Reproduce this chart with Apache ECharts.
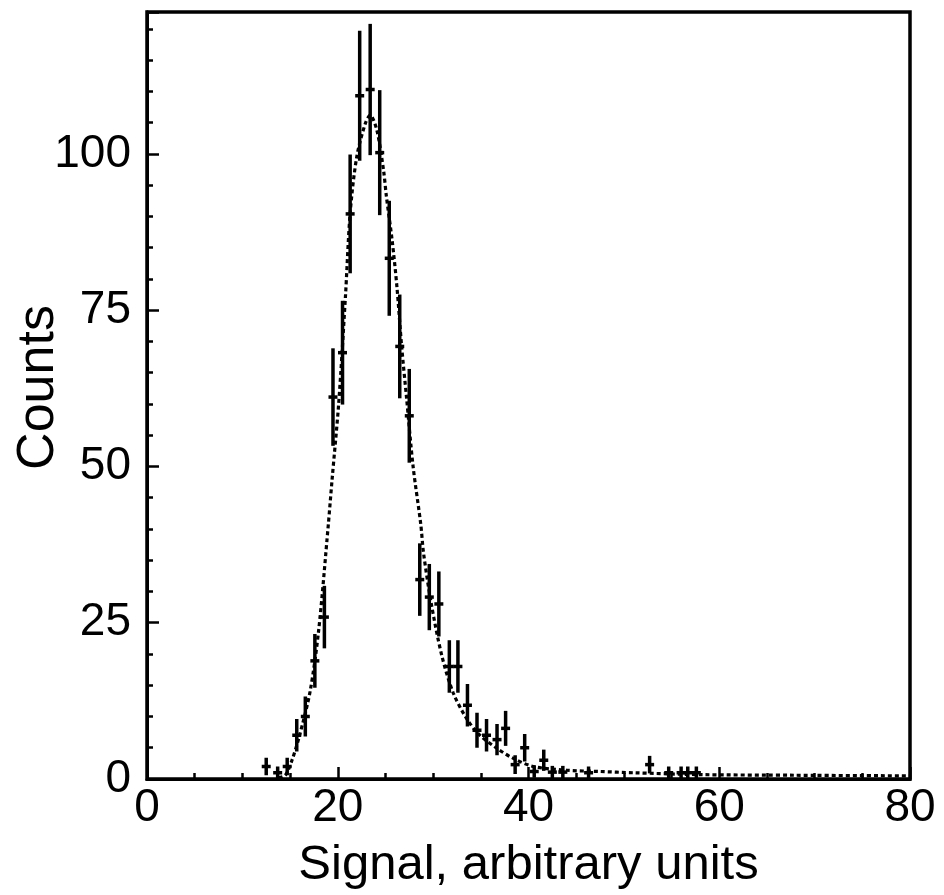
<!DOCTYPE html>
<html>
<head>
<meta charset="utf-8">
<script src="https://cdn.jsdelivr.net/npm/echarts@6/dist/echarts.min.js"></script>
<style>html,body{margin:0;padding:0;background:#fff;}#chart{width:944px;height:895px;}</style>
</head>
<body>
<div id="chart"></div>
<script>
// Measured histogram points
const signalX = [12.5, 13.7, 14.7, 15.7, 16.6, 17.6, 18.6, 19.5, 20.5, 21.3, 22.3, 23.4, 24.4, 25.4, 26.5, 27.5, 28.6, 29.6, 30.6, 31.7, 32.6, 33.6, 34.6, 35.6, 36.7, 37.6, 38.6, 39.6, 40.6, 41.6, 42.5, 43.6, 46.3, 52.7, 54.7, 56.0, 56.7, 57.6];
const counts  = [2.0, 1.0, 2.0, 7.0, 10.0, 18.9, 25.9, 61.1, 68.2, 90.4, 109.3, 110.3, 100.2, 83.3, 69.2, 58.1, 31.9, 29.1, 28.0, 18.0, 18.0, 11.8, 7.8, 7.0, 6.3, 8.1, 2.3, 5.0, 1.2, 3.0, 1.1, 1.1, 1.0, 2.3, 1.0, 1.0, 1.0, 1.0];
const countErr = [1.4, 1.0, 1.4, 2.6, 3.2, 4.3, 5.0, 7.8, 8.3, 9.5, 10.4, 10.5, 10.0, 9.2, 8.3, 7.5, 5.8, 5.3, 5.2, 4.2, 4.2, 3.4, 2.8, 2.6, 2.5, 2.8, 1.5, 2.2, 1.0, 1.7, 1.0, 1.0, 1.0, 1.4, 1.0, 1.0, 1.0, 1.0];

// Fit curve
const fitX = [13.8, 14.5, 15.2, 16.0, 17.1, 18.0, 19.0, 19.4, 20.1, 20.8, 21.3, 22.0, 22.9, 23.4, 24.1, 24.8, 25.1, 25.7, 26.2, 26.7, 27.2, 27.9, 28.7, 29.0, 29.8, 30.9, 32.1, 33.5, 34.9, 36.7, 38.4, 40.5, 44.0, 47.5, 51.0, 58.0, 68.0, 80.0];
const fitY = [0.2, 0.6, 3.0, 7.0, 14.0, 23.8, 40.5, 47.8, 60.1, 77.0, 90.5, 99.6, 104.9, 106.2, 103.8, 97.4, 93.2, 86.2, 78.8, 69.2, 61.2, 50.0, 40.8, 36.1, 28.1, 19.8, 13.8, 9.7, 7.0, 4.9, 3.3, 2.0, 1.4, 1.2, 1.0, 0.7, 0.6, 0.5];

const xTicks = [0, 80, 20];       // min, max, labelled interval
const yTicks = [0, 122.7, 25];     // min, max, labelled interval

const FONT = 'Liberation Sans';
const points = signalX.map((x, i) => [x, counts[i], countErr[i]]);
const fitLine = fitX.map((x, i) => [x, fitY[i]]);

const chart = echarts.init(document.getElementById('chart'), null, {renderer: 'canvas'});
const yBase = {
  type: 'value', min: yTicks[0], max: yTicks[1], position: 'left',
  splitLine: {show: false},
  axisLine: {show: true, lineStyle: {color: '#000', width: 3}}
};
chart.setOption({
  animation: false,
  backgroundColor: '#fff',
  grid: {left: 147, right: 34, top: 12, bottom: 116, containLabel: false, outerBoundsMode: 'none',
         show: true, borderColor: '#000', borderWidth: 3.5},
  xAxis: {
    type: 'value', min: xTicks[0], max: xTicks[1], interval: xTicks[2],
    name: 'Signal, arbitrary units', nameLocation: 'middle', nameGap: 62, nameMoveOverlap: false,
    nameTextStyle: {fontFamily: FONT, fontSize: 49, color: '#000'},
    splitLine: {show: false},
    axisLine: {show: true, lineStyle: {color: '#000', width: 3}},
    axisTick: {show: true, inside: true, length: 12, lineStyle: {color: '#000', width: 2.5}},
    minorTick: {show: true, splitNumber: 4, length: 6, lineStyle: {color: '#000', width: 2.5}},
    axisLabel: {fontFamily: FONT, fontSize: 46, color: '#000', margin: 6}
  },
  yAxis: [
    Object.assign({}, yBase, {
      interval: yTicks[2],
      name: 'Counts', nameLocation: 'middle', nameGap: 82, nameMoveOverlap: false,
      nameTextStyle: {fontFamily: FONT, fontSize: 52, color: '#000', padding: [0, 0, 0, 16]},
      axisTick: {show: true, inside: true, length: 12, lineStyle: {color: '#000', width: 2.5}},
      axisLabel: {fontFamily: FONT, fontSize: 46, color: '#000', margin: 16,
        formatter: v => (Math.abs(v % 25) < 1e-6 ? String(v) : '')}
    }),
    Object.assign({}, yBase, {
      interval: 5,
      axisTick: {show: true, inside: true, length: 6, lineStyle: {color: '#000', width: 2.5}},
      axisLabel: {show: false}
    })
  ],
  series: [
    {
      type: 'line', data: fitLine, smooth: 0.3, showSymbol: false, symbol: 'none',
      xAxisIndex: 0, yAxisIndex: 0,
      lineStyle: {color: '#000', width: 3.2, type: [4, 3]}, z: 2
    },
    {
      type: 'custom', data: points, xAxisIndex: 0, yAxisIndex: 0, z: 3,
      renderItem: function (params, api) {
        const x = api.value(0), y = api.value(1), e = api.value(2);
        const c = api.coord([x, y]);
        const top = api.coord([x, y + e]);
        const bot = api.coord([x, Math.max(0, y - e)]);
        return {type: 'group', children: [
          {type: 'line', shape: {x1: c[0], y1: top[1], x2: c[0], y2: bot[1]}, style: {stroke: '#000', lineWidth: 3.5}},
          {type: 'line', shape: {x1: c[0] - 4.5, y1: c[1], x2: c[0] + 4.5, y2: c[1]}, style: {stroke: '#000', lineWidth: 3.5}}
        ]};
      }
    }
  ]
});
</script>
</body>
</html>
